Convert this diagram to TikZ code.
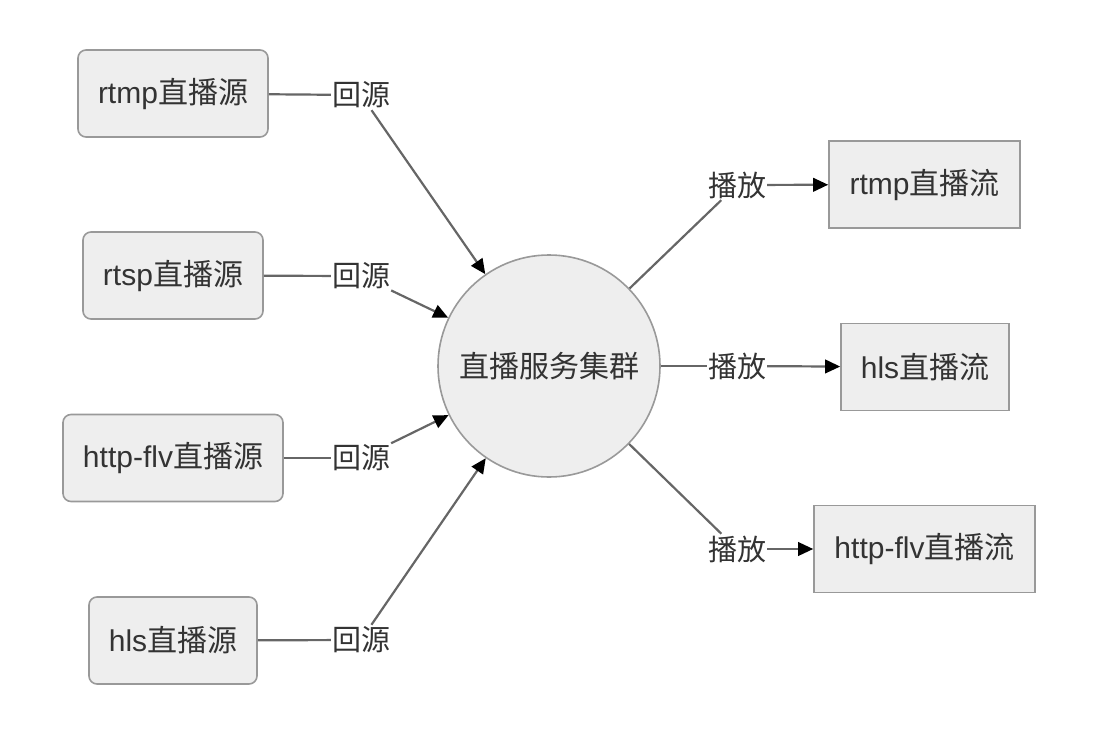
\documentclass[tikz,border=0pt]{standalone}
\usepackage{fontspec}
\setmainfont{Liberation Sans}
\newfontfamily\cjkfont{Noto Sans CJK SC}
\newcommand\zhtext[1]{{\cjkfont #1}}
\usetikzlibrary{arrows.meta}

\definecolor{boxfill}{HTML}{EEEEEE}
\definecolor{boxline}{HTML}{999999}
\definecolor{wire}{HTML}{666666}
\definecolor{ink}{HTML}{333333}

\tikzset{
  base/.style={draw=boxline, fill=boxfill, line width=1.6pt, text=ink,
    font=\fontsize{30}{35}\selectfont, inner sep=0pt},
  srcbox/.style={base, rounded corners=8pt, minimum height=87pt},
  sinkbox/.style={base, minimum height=87pt},
  hubnode/.style={base, circle, minimum size=222pt},
  tag/.style={text=ink, font=\fontsize{29}{33}\selectfont, inner sep=1pt,
    minimum height=30pt},
  wireline/.style={draw=wire, line width=2.2pt},
  wirearrow/.style={wireline, -{Triangle[length=15pt,width=13.5pt,color=black]}},
}

\begin{document}
\begin{tikzpicture}[x=1pt,y=-1pt]
  \useasboundingbox (0,0) rectangle (1116,736);

  % central cluster
  \node[hubnode] (hub) at (549,366) {\zhtext{直播服务集群}};

  % live sources
  \node[srcbox, minimum width=190pt] (s1) at (173,93.5) {rtmp\zhtext{直播源}};
  \node[srcbox, minimum width=180pt] (s2) at (173,275.5) {rtsp\zhtext{直播源}};
  \node[srcbox, minimum width=220pt] (s3) at (173,458) {http-flv\zhtext{直播源}};
  \node[srcbox, minimum width=168pt] (s4) at (173,640.5) {hls\zhtext{直播源}};

  % output streams
  \node[sinkbox, minimum width=191pt] (o1) at (924.5,184.5) {rtmp\zhtext{直播流}};
  \node[sinkbox, minimum width=168pt] (o2) at (925,367) {hls\zhtext{直播流}};
  \node[sinkbox, minimum width=221pt] (o3) at (924.5,549) {http-flv\zhtext{直播流}};

  % edge labels
  \node[tag] (b1) at (361,95) {\zhtext{回源}};
  \node[tag] (b2) at (361,276) {\zhtext{回源}};
  \node[tag] (b3) at (361,458) {\zhtext{回源}};
  \node[tag] (b4) at (361,640) {\zhtext{回源}};
  \node[tag] (p1) at (737,185) {\zhtext{播放}};
  \node[tag] (p2) at (737,366) {\zhtext{播放}};
  \node[tag] (p3) at (737,549) {\zhtext{播放}};

  % pulls from sources into the cluster
  \foreach \s/\b in {s1/b1, s2/b2, s3/b3, s4/b4} {
    \draw[wireline] (\s) -- (\b);
    \draw[wirearrow] (\b) -- (hub);
  }

  % playback streams out of the cluster
  \foreach \p/\o in {p1/o1, p2/o2, p3/o3} {
    \draw[wireline] (hub) -- (\p);
    \draw[wirearrow] (\p) -- (\o);
  }
\end{tikzpicture}
\end{document}
